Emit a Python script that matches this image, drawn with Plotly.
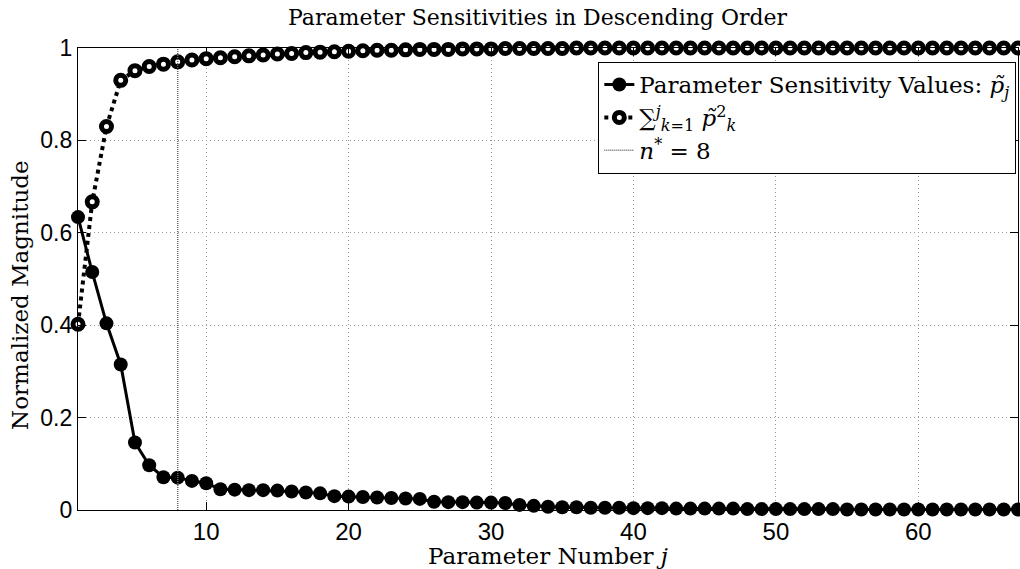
import plotly.graph_objects as go

param_number = list(range(1, 68))

sensitivity = [0.634, 0.515, 0.404, 0.315, 0.146, 0.097, 0.071, 0.070, 0.063, 0.058,
               0.045, 0.044, 0.043, 0.043, 0.042, 0.040, 0.038, 0.036, 0.030, 0.029,
               0.028, 0.027, 0.026, 0.025, 0.024, 0.018, 0.017, 0.017, 0.016, 0.016,
               0.015, 0.011, 0.009, 0.007, 0.006, 0.006, 0.005, 0.005, 0.005, 0.004,
               0.004, 0.004, 0.003, 0.003, 0.003, 0.003, 0.003, 0.002, 0.002, 0.002,
               0.002, 0.002, 0.002, 0.002, 0.001, 0.001, 0.001, 0.001, 0.001, 0.001,
               0.001, 0.001, 0.001, 0.001, 0.001, 0.001, 0.001]

cumulative = [0.402, 0.667, 0.830, 0.930, 0.951, 0.960, 0.965, 0.970, 0.974, 0.977,
              0.979, 0.981, 0.983, 0.985, 0.987, 0.988, 0.990, 0.991, 0.992, 0.993,
              0.994, 0.995, 0.995, 0.996, 0.997, 0.997, 0.997, 0.998, 0.998, 0.998,
              0.999, 0.999, 0.999, 0.999, 0.999, 1.000, 1.000, 1.000, 1.000, 1.000,
              1.000, 1.000, 1.000, 1.000, 1.000, 1.000, 1.000, 1.000, 1.000, 1.000,
              1.000, 1.000, 1.000, 1.000, 1.000, 1.000, 1.000, 1.000, 1.000, 1.000,
              1.000, 1.000, 1.000, 1.000, 1.000, 1.000, 1.000]

n_star = 8
x_ticks = [10, 20, 30, 40, 50, 60]
y_ticks = [0, 0.2, 0.4, 0.6, 0.8, 1]
y_tick_labels = ["0", "0.2", "0.4", "0.6", "0.8", "1"]

serif = "DejaVu Serif"
sans = "Liberation Sans"

fig = go.Figure()

fig.add_trace(go.Scatter(
    x=param_number, y=sensitivity, mode="lines+markers",
    name="Parameter Sensitivity Values: <i>p̃</i><sub><i>j</i></sub>",
    line=dict(color="black", width=3),
    marker=dict(symbol="circle", size=14, color="black"),
    cliponaxis=False,
))

fig.add_trace(go.Scatter(
    x=param_number, y=cumulative, mode="lines+markers",
    name="∑<sup><i>j</i></sup><sub><i>k</i>=1</sub> <i>p̃</i><sup>2</sup><sub><i>k</i></sub>",
    line=dict(color="black", width=4, dash="dot"),
    marker=dict(symbol="circle", size=10, color="white",
                line=dict(color="black", width=5)),
    cliponaxis=False,
))

fig.add_trace(go.Scatter(
    x=[n_star, n_star], y=[0, 1], mode="lines",
    name="<i>n</i><sup>*</sup> = 8",
    line=dict(color="#666666", width=1.5, dash="1px,1px"),
))

fig.update_layout(
    width=1020, height=569,
    margin=dict(l=78, r=2, t=48, b=59),
    paper_bgcolor="white", plot_bgcolor="white",
    title=dict(text="Parameter Sensitivities in Descending Order",
               font=dict(family=serif, size=22, color="black"),
               x=0.527, xanchor="center", yref="container", y=0.984, yanchor="top"),
    legend=dict(x=0.998, y=0.97, xanchor="right", yanchor="top",
                bgcolor="white", bordercolor="black", borderwidth=1.2,
                font=dict(family=serif, size=23, color="black"),
                tracegroupgap=0, itemwidth=30),
    showlegend=True,
    annotations=[dict(text="Normalized Magnitude", xref="paper", yref="paper",
                      x=-0.062, y=0.465, xanchor="center", yanchor="middle",
                      textangle=-90, showarrow=False,
                      font=dict(family=serif, size=23, color="black"))],
)

fig.update_xaxes(
    range=[1, 67], tickvals=x_ticks,
    showline=True, linecolor="black", linewidth=1.2, mirror="ticks",
    ticks="inside", ticklen=8, tickcolor="black",
    showgrid=True, gridcolor="#999999", griddash="1px,3px", gridwidth=1,
    zeroline=False,
    tickfont=dict(family=sans, size=24, color="black"),
    title=dict(text="Parameter Number <i>j</i>", standoff=0,
               font=dict(family=serif, size=23, color="black")),
)

fig.update_yaxes(
    range=[0, 1], tickvals=y_ticks, ticktext=y_tick_labels,
    showline=True, linecolor="black", linewidth=1.2, mirror="ticks",
    ticks="inside", ticklen=8, tickcolor="black",
    showgrid=True, gridcolor="#999999", griddash="1px,3px", gridwidth=1,
    zeroline=False,
    tickfont=dict(family=sans, size=23, color="black"),
)

fig.write_html("out.html")
